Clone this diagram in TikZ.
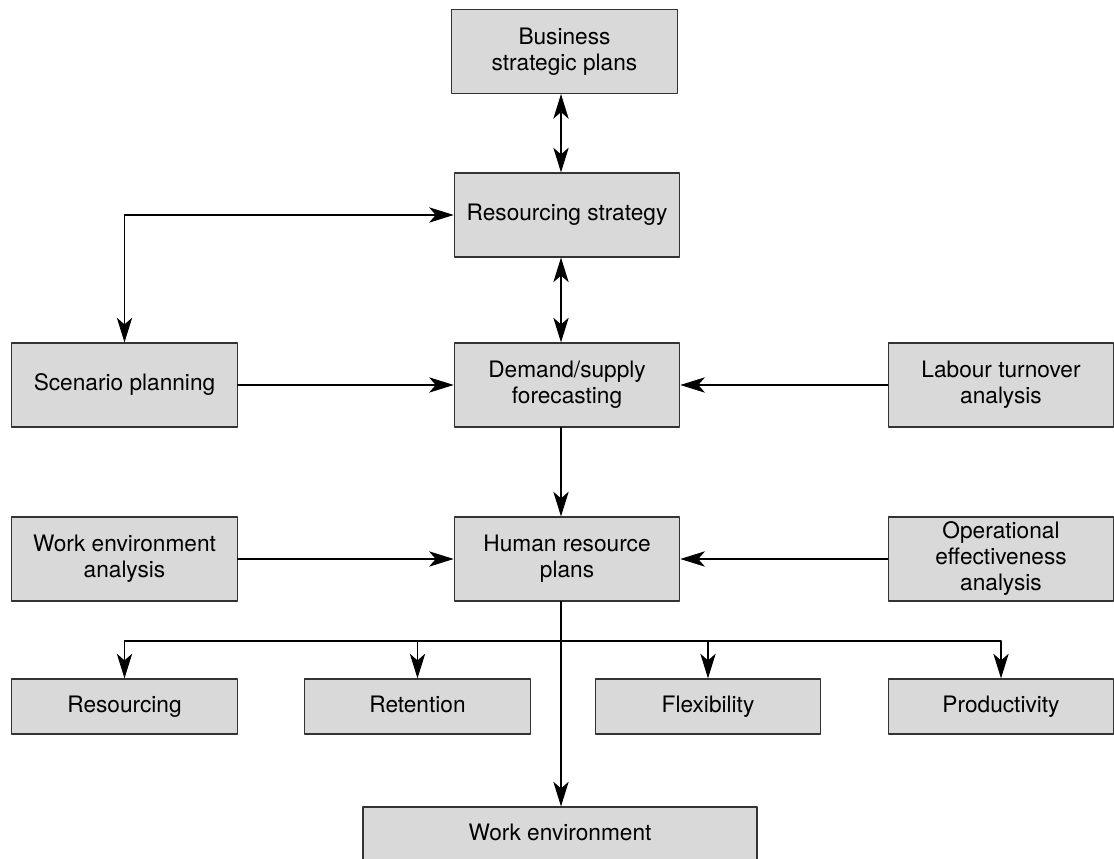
\documentclass[tikz,border=0pt]{standalone}
\usepackage{fontspec}
\setmainfont{TeX Gyre Heros}
\usepackage{tikz}
\usetikzlibrary{arrows.meta}
\usetikzlibrary{positioning}

\definecolor{boxfill}{HTML}{D9D9D9}
\definecolor{boxline}{HTML}{333333}

\tikzset{
  box/.style={draw=boxline, line width=0.9pt, fill=boxfill, inner sep=0pt,
    minimum width=169pt, minimum height=63pt, align=center,
    font=\fontsize{17pt}{19.5pt}\selectfont},
  lowbox/.style={box, minimum height=41.25pt, text height=12.5pt, text depth=3.5pt}
}

\begin{document}
\begin{tikzpicture}[line cap=round,line join=round,>={Stealth[length=18.5pt,width=11.5pt,inset=5pt,sharp]},x=0.75pt,y=0.75pt]
\useasboundingbox (0,0) rectangle (1114,859);
\clip (0,0) rectangle (1114,859);
% top column
\node [box] (bsp) at (564.5,807.5) {Business\\strategic plans};
\node [box] (rs) at (567,644) {Resourcing strategy};
\node [box] (dsf) at (567,474) {Demand/supply\\forecasting};
\node [box] (sp) at (124.5,474) {Scenario planning};
\node [box] (lta) at (1001,474) {Labour turnover\\analysis};
\node [box] (hrp) at (567,300) {Human resource\\plans};
\node [box] (wea) at (124.5,300) {Work environment\\analysis};
\node [box] (oea) at (1001,300) {Operational\\effectiveness\\analysis};
% outputs
\node [lowbox] (res) at (124.5,152.5) {Resourcing};
\node [lowbox] (ret) at (417.5,152.5) {Retention};
\node [lowbox] (flex) at (708,152.5) {Flexibility};
\node [lowbox] (prod) at (1001,152.5) {Productivity};
\node [lowbox, minimum width=295.5pt] (we) at (560,24.5) {Work environment};
\coordinate (spine) at (561,0);
\coordinate (bar) at (0,218);
% connectors
\draw [line width=0.9pt,<->] (bsp.south -| spine) -- (rs.north -| spine);
\draw [line width=0.9pt,<->] (rs.south -| spine) -- (dsf.north -| spine);
\draw [line width=0.9pt,->] (dsf.south -| spine) -- (hrp.north -| spine);
\draw [line width=0.9pt,<->] (sp.north) |- (rs.west);
\draw [line width=0.9pt,->] (sp.east) -- (dsf.west);
\draw [line width=0.9pt,->] (lta.west) -- (dsf.east);
\draw [line width=0.9pt,->] (wea.east) -- (hrp.west);
\draw [line width=0.9pt,->] (oea.west) -- (hrp.east);
\draw [line width=0.9pt,->] (hrp.south -| spine) -- (we.north -| spine);
\draw [line width=0.9pt] (res.north |- bar) -- (prod.north |- bar);
\foreach \b in {res,ret,flex,prod}
  \draw [line width=0.9pt,->] (\b.north |- bar) -- (\b.north);
\end{tikzpicture}
\end{document}
